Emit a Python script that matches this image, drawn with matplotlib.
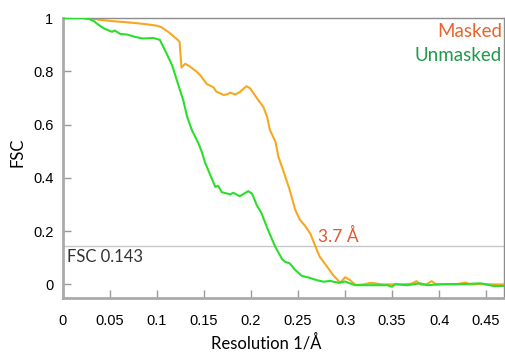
"""
FSC curves, masked vs unmasked
"""

import numpy as np
import matplotlib
matplotlib.use("Agg")
import matplotlib.pyplot as plt

# ── Data ───────────────────────────────────────────────────────────────────
masked_res = [0.0, 0.02, 0.03, 0.04, 0.05, 0.068, 0.08, 0.09, 0.10, 0.105,
              0.113, 0.122, 0.124, 0.126, 0.130, 0.135, 0.142, 0.146, 0.153,
              0.160, 0.163, 0.171, 0.175, 0.178, 0.183, 0.188, 0.195, 0.199,
              0.206, 0.213, 0.217, 0.220, 0.226, 0.229, 0.234, 0.241, 0.247,
              0.252, 0.257, 0.263, 0.268, 0.273, 0.281, 0.287, 0.295, 0.300,
              0.305, 0.311, 0.320, 0.327, 0.332, 0.339, 0.350, 0.362, 0.370,
              0.376, 0.381, 0.387, 0.392, 0.397, 0.405, 0.417, 0.428, 0.433,
              0.445, 0.458, 0.469]
masked_fsc = [1.0, 1.0, 0.998, 0.993, 0.989, 0.984, 0.980, 0.976, 0.971, 0.965,
              0.945, 0.918, 0.910, 0.814, 0.828, 0.818, 0.799, 0.785, 0.752,
              0.740, 0.724, 0.711, 0.714, 0.720, 0.713, 0.722, 0.744, 0.736,
              0.700, 0.667, 0.630, 0.580, 0.535, 0.480, 0.430, 0.356, 0.280,
              0.242, 0.222, 0.191, 0.147, 0.104, 0.066, 0.036, 0.006, 0.027,
              0.017, -0.002, 0.0, 0.006, 0.004, 0.0, 0.0, 0.0, 0.002,
              0.012, -0.002, 0.001, 0.012, 0.0, 0.001, 0.0, 0.007, 0.0,
              0.001, 0.0, 0.0]

unmasked_res = [0.0, 0.02, 0.028, 0.033, 0.036, 0.043, 0.052, 0.055, 0.061,
                0.068, 0.077, 0.085, 0.096, 0.103, 0.110, 0.116, 0.123, 0.128,
                0.132, 0.137, 0.144, 0.148, 0.151, 0.156, 0.162, 0.165, 0.169,
                0.178, 0.181, 0.188, 0.197, 0.201, 0.206, 0.211, 0.218, 0.2255,
                0.233, 0.236, 0.241, 0.247, 0.254, 0.261, 0.270, 0.277, 0.284,
                0.293, 0.300, 0.305, 0.311, 0.320, 0.336, 0.345, 0.350, 0.353,
                0.366, 0.380, 0.387, 0.405, 0.426, 0.444, 0.458, 0.469]
unmasked_fsc = [1.0, 1.0, 0.996, 0.988, 0.979, 0.962, 0.948, 0.953, 0.940,
                0.938, 0.929, 0.923, 0.925, 0.918, 0.868, 0.823, 0.745, 0.690,
                0.630, 0.580, 0.530, 0.494, 0.458, 0.416, 0.366, 0.370, 0.346,
                0.338, 0.344, 0.331, 0.350, 0.341, 0.298, 0.268, 0.205, 0.143,
                0.095, 0.085, 0.079, 0.054, 0.032, 0.026, 0.016, 0.010, 0.013,
                0.006, 0.011, 0.004, -0.003, -0.003, -0.003, -0.003, -0.009, 0.001,
                -0.003, 0.004, -0.003, 0.001, 0.001, 0.004, -0.006, -0.006]

x_ticks = [0, 0.05, 0.1, 0.15, 0.2, 0.25, 0.3, 0.35, 0.4, 0.45]
x_tick_labels = ["0", "0.05", "0.1", "0.15", "0.2", "0.25", "0.3", "0.35", "0.4", "0.45"]
y_ticks = [0, 0.2, 0.4, 0.6, 0.8, 1.0]
y_tick_labels = ["0", "0.2", "0.4", "0.6", "0.8", "1"]

FSC_CUTOFF = 0.143
RES_LABEL = "3.7 Å"

# ── Style ──────────────────────────────────────────────────────────────────
ORANGE = "#F7A823"
GREEN = "#2ADF2A"
TXT_FONT = ["Lato", "DejaVu Sans"]
TICK_FONT = ["Liberation Sans", "DejaVu Sans"]

# ── Plot ───────────────────────────────────────────────────────────────────
fig = plt.figure(figsize=(5.06, 3.58), dpi=100)
ax = fig.add_axes([0.1245, 0.1684, 0.8715, 0.7813])

ax.axhline(FSC_CUTOFF, color="#c8c8c8", linewidth=1.0, zorder=1)
ax.plot(unmasked_res, unmasked_fsc, color=GREEN, linewidth=1.5, zorder=3)
ax.plot(masked_res, masked_fsc, color=ORANGE, linewidth=1.5, zorder=2)

ax.set_xlim(0, 0.469)
ax.set_ylim(-0.05, 1.0)
ax.set_xticks(x_ticks)
ax.set_xticklabels(x_tick_labels, fontfamily=TICK_FONT, fontsize=10.5)
ax.set_yticks(y_ticks)
ax.set_yticklabels(y_tick_labels, fontfamily=TICK_FONT, fontsize=10.5)
ax.tick_params(axis="x", direction="in", length=5.5, width=1.0,
               color="#999999", pad=12)
ax.tick_params(axis="y", direction="in", length=5.5, width=1.0,
               color="#999999", pad=7)

for side in ["left", "bottom"]:
    ax.spines[side].set_color("#aaaaaa")
    ax.spines[side].set_linewidth(2.0)
for side in ["top", "right"]:
    ax.spines[side].set_color("#8c8c8c")
    ax.spines[side].set_linewidth(1.0)

ax.set_xlabel("Resolution 1/Å", fontfamily=TXT_FONT, fontsize=12)
ax.xaxis.set_label_coords(0.461, -0.13)
ax.set_ylabel("FSC", fontfamily=TXT_FONT, fontsize=12)
ax.yaxis.set_label_coords(-0.086, 0.52)

ax.text(0.996, 0.95, "Masked", transform=ax.transAxes, ha="right",
        va="center", fontsize=13.5, color="#E8642C", fontfamily=TXT_FONT)
ax.text(0.996, 0.866, "Unmasked", transform=ax.transAxes, ha="right",
        va="center", fontsize=13.5, color="#1E9A48", fontfamily=TXT_FONT)
ax.text(0.01, FSC_CUTOFF - 0.04, "FSC 0.143", ha="left", va="center",
        transform=ax.get_yaxis_transform(), fontsize=12, color="#333333",
        fontfamily=TXT_FONT)
ax.text(0.271, 0.18, RES_LABEL, ha="left", va="center", fontsize=12.5,
        color="#E4552F", fontfamily=TXT_FONT)

plt.savefig("out.png", dpi=100)
plt.close()
